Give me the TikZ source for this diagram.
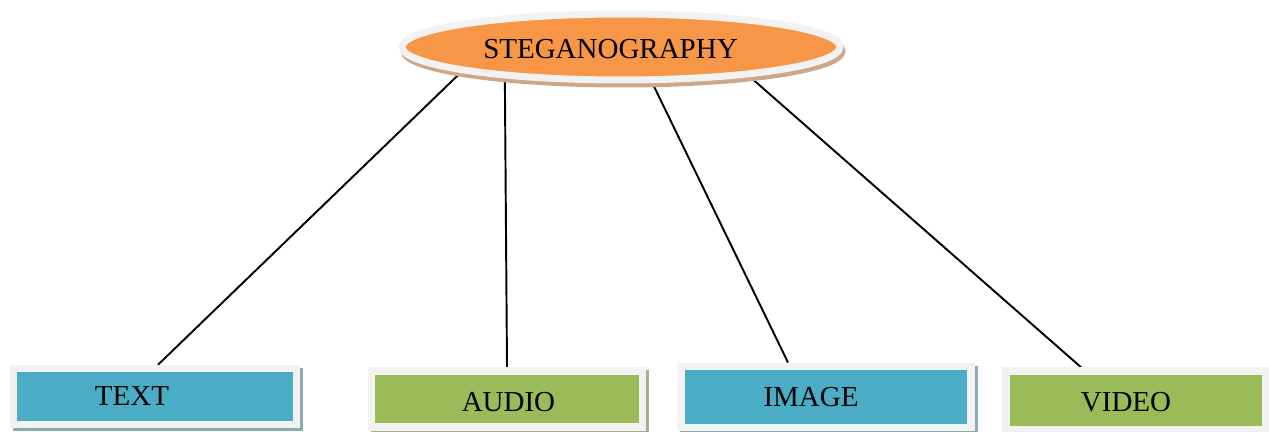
\documentclass[tikz,border=0pt]{standalone}
\usepackage{fontspec}
\setmainfont{Liberation Serif}
\usetikzlibrary{shapes.geometric, backgrounds}

\definecolor{stegorange}{RGB}{247,150,70}
\definecolor{mediablue}{RGB}{75,172,198}
\definecolor{mediagreen}{RGB}{155,187,89}
\definecolor{rimgray}{RGB}{242,242,242}
\definecolor{tanshade}{RGB}{206,166,136}
\definecolor{blueshade}{RGB}{140,170,180}
\definecolor{greenshade}{RGB}{165,175,140}

\begin{document}
\begin{tikzpicture}[x=0.02cm, y=-0.02cm,
    topic/.style={ellipse, draw=rimgray, line width=0.14cm, fill=stegorange,
        minimum width=8.76cm, minimum height=1.32cm, inner sep=0pt,
        preaction={draw=tanshade, fill=tanshade, line width=0.14cm,
            transform canvas={xshift=0.04cm, yshift=-0.08cm}}},
    mediabox/.style 2 args={rectangle, draw=rimgray, line width=0.15cm,
        fill=#1, inner sep=0pt,
        preaction={draw=#2, fill=#2, line width=0.15cm,
            transform canvas={xshift=0.06cm, yshift=-0.06cm}}},
    caption/.style={font=\fontsize{16.5}{20}\selectfont},
    link/.style={draw=black, line width=1.1pt}]
    \useasboundingbox (0,0) rectangle (1269,432);

    % root
    \node[topic, label={[caption, xshift=-0.21cm, yshift=-0.05cm]center:STEGANOGRAPHY}]
        (steg) at (621,47) {};

    % media types
    \node[mediabox={mediablue}{blueshade}, minimum width=5.67cm, minimum height=1.12cm,
        label={[caption, xshift=-0.46cm]center:TEXT}] (txt) at (155,396.5) {};
    \node[mediabox={mediagreen}{greenshade}, minimum width=5.43cm, minimum height=1.12cm,
        label={[caption, xshift=0.03cm, yshift=-0.06cm]center:AUDIO}] (aud) at (507,399) {};
    \node[mediabox={mediablue}{blueshade}, minimum width=5.81cm, minimum height=1.23cm,
        label={[caption, xshift=-0.30cm]center:IMAGE}] (img) at (826,397) {};
    \node[mediabox={mediagreen}{greenshade}, minimum width=5.21cm, minimum height=1.18cm,
        label={[caption, xshift=-0.20cm, yshift=-0.04cm]center:VIDEO}] (vid) at (1136,400.5) {};

    \begin{scope}[on background layer]
        \draw[link] ([xshift=0.06cm]txt.north) -- (steg.189);
        \draw[link] (aud.north) -- (steg.195);
        \draw[link] ([xshift=-0.76cm]img.north) -- (steg.311);
        \draw[link] ([xshift=-1.1cm]vid.north) -- (steg.347);
    \end{scope}
\end{tikzpicture}
\end{document}
